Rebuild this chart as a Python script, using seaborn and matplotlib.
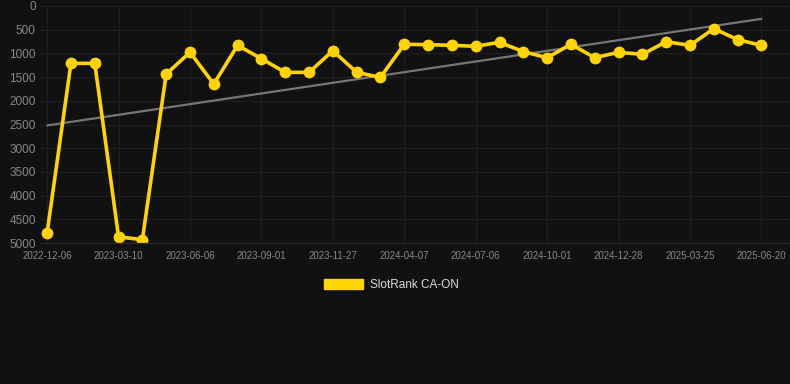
import numpy as np
import pandas as pd
import seaborn as sns
import matplotlib.pyplot as plt
from matplotlib.patches import Patch

# === data ===
dates = [
    "2022-12-06", "2023-01-06", "2023-02-07", "2023-03-10", "2023-04-08",
    "2023-05-07", "2023-06-06", "2023-07-05", "2023-08-03", "2023-09-01",
    "2023-09-30", "2023-10-29", "2023-11-27", "2024-01-10", "2024-02-23",
    "2024-04-07", "2024-05-07", "2024-06-06", "2024-07-06", "2024-08-04",
    "2024-09-02", "2024-10-01", "2024-10-30", "2024-11-28", "2024-12-28",
    "2025-01-26", "2025-02-24", "2025-03-25", "2025-04-23", "2025-05-22",
    "2025-06-20",
]
rank = [
    4780, 1210, 1210, 4870, 4930, 1435, 977, 1646, 830, 1112,
    1400, 1400, 943, 1400, 1505, 808, 815, 830, 850, 766,
    963, 1090, 808, 1090, 977, 1020, 753, 830, 478, 710,
    830,
]
series_name = "SlotRank CA-ON"
yticks = [0, 500, 1000, 1500, 2000, 2500, 3000, 3500, 4000, 4500, 5000]

df = pd.DataFrame({"pos": np.arange(len(dates)), "date": dates, "rank": rank})

# linear trend over the series
coef = np.polyfit(df["pos"], df["rank"], 1)
df["trend"] = np.polyval(coef, df["pos"])

# === style ===
bg = "#111111"
gold = "#FFD400"
sns.set_theme(style="dark")
plt.rcParams["font.family"] = ["Liberation Sans", "DejaVu Sans"]

fig = plt.figure(figsize=(7.9, 3.84), dpi=100, facecolor=bg)
ax = fig.add_axes([40 / 790, 1 - 243 / 384, 750 / 790, 237 / 384])
ax.set_facecolor(bg)

sns.lineplot(data=df, x="pos", y="trend", color="#777777", linewidth=1.6, ax=ax)
sns.lineplot(data=df, x="pos", y="rank", color=gold, linewidth=2.6,
             marker="o", markersize=8.5, markeredgewidth=0, ax=ax)

ax.set_ylim(5000, 0)
ax.set_xlim(-0.3, 31.2)
ax.set_yticks(yticks)
ax.set_yticklabels([str(v) for v in yticks])
tick_pos = list(range(0, len(dates), 3))
ax.set_xticks(tick_pos)
ax.set_xticklabels([dates[i] for i in tick_pos])

ax.grid(True, color="#1f1f1f", linewidth=0.9)
for s in ax.spines.values():
    s.set_visible(False)
ax.spines["bottom"].set_visible(True)
ax.spines["bottom"].set_color("#2a2a2a")
ax.spines["bottom"].set_linewidth(0.9)
ax.tick_params(axis="y", colors="#8a8a8a", labelsize=8.5, length=0, pad=3)
ax.tick_params(axis="x", colors="#8a8a8a", labelsize=7.0, length=0, pad=6)
ax.set_xlabel("")
ax.set_ylabel("")

handle = Patch(facecolor=gold, edgecolor=gold)
fig.legend([handle], [series_name], loc="center", bbox_to_anchor=(0.495, 1 - 285 / 384),
           frameon=False, fontsize=8.5, labelcolor="#dddddd",
           handlelength=3.3, handleheight=1.0, handletextpad=0.6)

fig.savefig("out.png", dpi=100, facecolor=bg)
